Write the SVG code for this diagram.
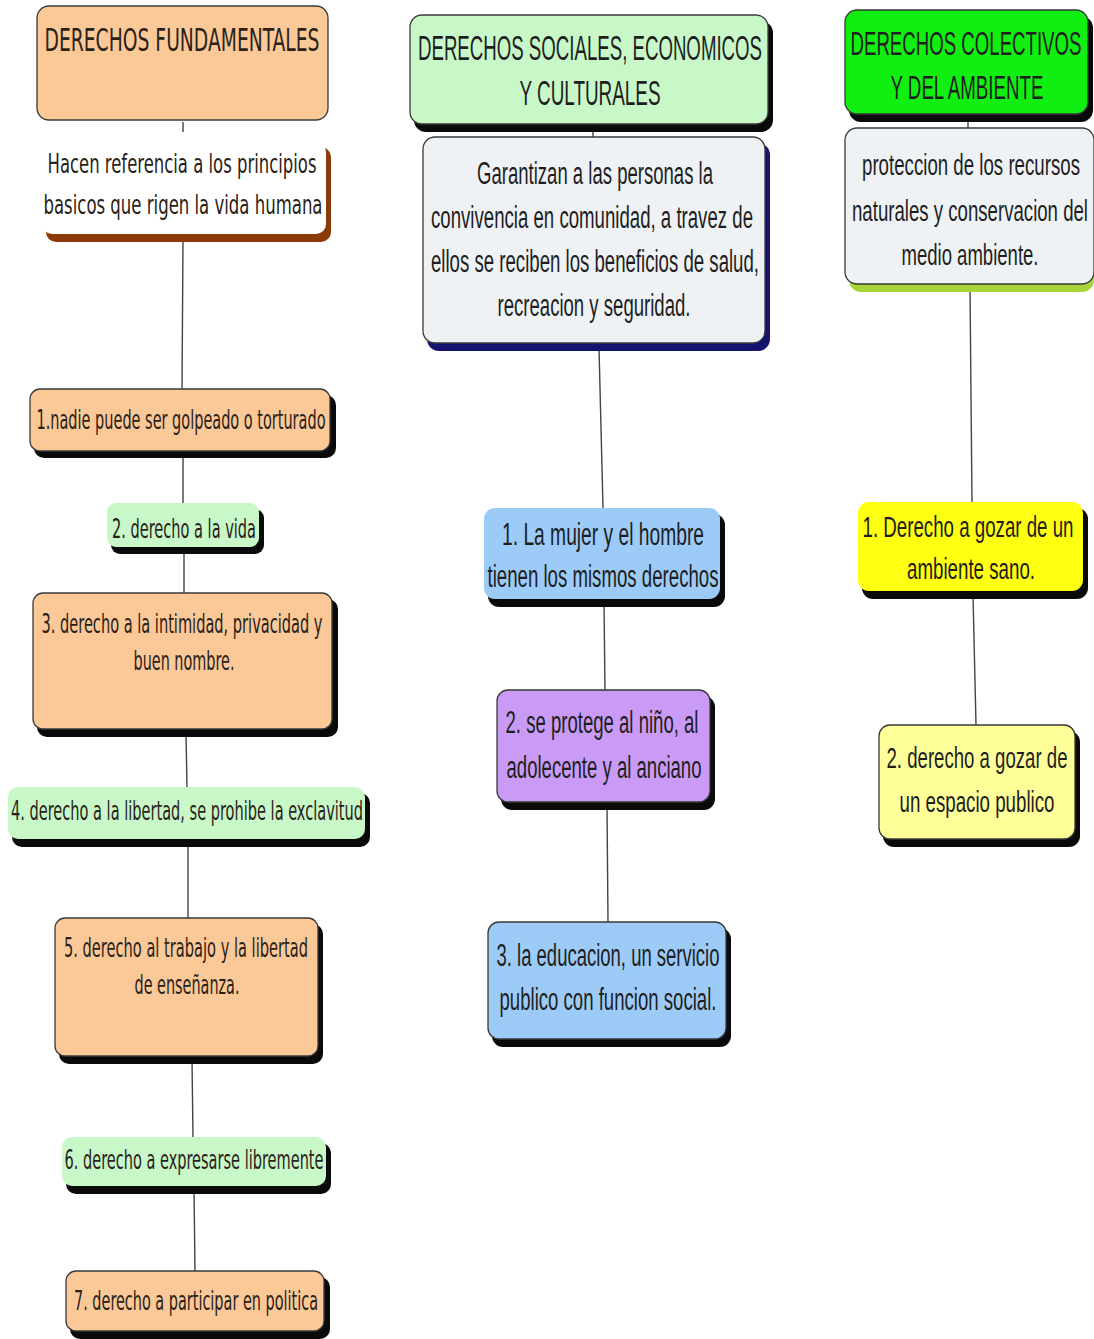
<svg xmlns="http://www.w3.org/2000/svg" width="1094" height="1339" viewBox="0 0 1094 1339">
<style>
.bg{fill:#ffffff}
.box{stroke:#3a3a3a;stroke-width:1.3}
.sh{fill:#0a0a0a}
.peach{fill:#FBC898}
.lgreen{fill:#C8F8C8}
.gray{fill:#EEF2F5}
.white{fill:#ffffff}
.blue{fill:#9DCBF8}
.purple{fill:#C99BF7}
.green{fill:#11EE11}
.yellow{fill:#FFFF11}
.lyellow{fill:#FFFF99}
.conn{stroke:#444;stroke-width:1.4;fill:none}
.v{font-family:"DejaVu Sans Condensed","DejaVu Sans",sans-serif;fill:#2a2218;text-anchor:middle}
.a{font-family:"Liberation Sans",Arial,sans-serif;fill:#1e1e1e;text-anchor:middle}
</style>
<rect class="bg" x="0" y="0" width="1094" height="1339"/>
<g id="connectors">
<line class="conn" x1="183" y1="122" x2="183" y2="132"/>
<line class="conn" x1="183" y1="240" x2="182" y2="389"/>
<line class="conn" x1="183" y1="455" x2="183" y2="503"/>
<line class="conn" x1="184" y1="551" x2="184" y2="593"/>
<line class="conn" x1="186" y1="733" x2="187" y2="787"/>
<line class="conn" x1="188" y1="843" x2="188" y2="918"/>
<line class="conn" x1="192" y1="1060" x2="193" y2="1137"/>
<line class="conn" x1="194" y1="1190" x2="195" y2="1271"/>
<line class="conn" x1="593" y1="128" x2="593" y2="137"/>
<line class="conn" x1="599" y1="348" x2="603" y2="508"/>
<line class="conn" x1="604" y1="603" x2="605" y2="690"/>
<line class="conn" x1="607" y1="806" x2="608" y2="922"/>
<line class="conn" x1="968" y1="118" x2="968" y2="128"/>
<line class="conn" x1="970" y1="288" x2="972" y2="502"/>
<line class="conn" x1="973" y1="595" x2="976" y2="725"/>
</g>
<g id="n-fundamentales">
<rect class="box peach" x="37" y="6" width="291" height="114" rx="12"/>
<text class="v" x="182" y="51" font-size="32" textLength="275" lengthAdjust="spacingAndGlyphs">DERECHOS FUNDAMENTALES</text>
</g>
<g id="n-hacen">
<rect x="46" y="147" width="285" height="95" rx="10" fill="#8B3A0A"/>
<rect class="white" x="42" y="142" width="284" height="92" rx="10"/>
<text class="v" x="182" y="173" font-size="27" textLength="269" lengthAdjust="spacingAndGlyphs">Hacen referencia a los principios</text>
<text class="v" x="183" y="214" font-size="27" textLength="279" lengthAdjust="spacingAndGlyphs">basicos que rigen la vida humana</text>
</g>
<g id="n-c1-1">
<rect class="sh" x="34" y="395" width="302" height="63" rx="10"/>
<rect class="box peach" x="30" y="389" width="300" height="62" rx="10"/>
<text class="v" x="181" y="429" font-size="27" textLength="289" lengthAdjust="spacingAndGlyphs">1.nadie puede ser golpeado o torturado</text>
</g>
<g id="n-c1-2">
<rect class="sh" x="111" y="509" width="153" height="45" rx="9"/>
<rect class="lgreen" x="107" y="503" width="152" height="44" rx="9"/>
<text class="v" x="184" y="538" font-size="27" textLength="144" lengthAdjust="spacingAndGlyphs">2. derecho a la vida</text>
</g>
<g id="n-c1-3">
<rect class="sh" x="37" y="599" width="301" height="138" rx="10"/>
<rect class="box peach" x="33" y="593" width="299" height="136" rx="10"/>
<text class="v" x="182" y="633" font-size="27" textLength="281" lengthAdjust="spacingAndGlyphs">3. derecho a la intimidad, privacidad y</text>
<text class="v" x="184" y="670" font-size="27" textLength="101" lengthAdjust="spacingAndGlyphs">buen nombre.</text>
</g>
<g id="n-c1-4">
<rect class="sh" x="12" y="793" width="358" height="54" rx="10"/>
<rect class="lgreen" x="8" y="787" width="357" height="52" rx="10"/>
<text class="v" x="187" y="820" font-size="27" textLength="352" lengthAdjust="spacingAndGlyphs">4. derecho a la libertad, se prohibe la exclavitud</text>
</g>
<g id="n-c1-5">
<rect class="sh" x="59" y="924" width="264" height="140" rx="10"/>
<rect class="box peach" x="55" y="918" width="263" height="138" rx="10"/>
<text class="v" x="186" y="957" font-size="27" textLength="244" lengthAdjust="spacingAndGlyphs">5. derecho al trabajo y la libertad</text>
<text class="v" x="187" y="994" font-size="27" textLength="105" lengthAdjust="spacingAndGlyphs">de enseñanza.</text>
</g>
<g id="n-c1-6">
<rect class="sh" x="66" y="1143" width="265" height="51" rx="10"/>
<rect class="lgreen" x="62" y="1137" width="264" height="49" rx="10"/>
<text class="v" x="194" y="1169" font-size="27" textLength="259" lengthAdjust="spacingAndGlyphs">6. derecho a expresarse libremente</text>
</g>
<g id="n-c1-7">
<rect class="sh" x="70" y="1277" width="260" height="62" rx="10"/>
<rect class="box peach" x="66" y="1271" width="258" height="60" rx="10"/>
<text class="v" x="196" y="1310" font-size="27" textLength="244" lengthAdjust="spacingAndGlyphs">7. derecho a participar en politica</text>
</g>
<g id="n-sociales">
<rect class="sh" x="414" y="21" width="359" height="111" rx="12"/>
<rect class="box lgreen" x="410" y="15" width="358" height="109" rx="12"/>
<text class="a" x="590" y="60" font-size="35" textLength="344" lengthAdjust="spacingAndGlyphs">DERECHOS SOCIALES, ECONOMICOS</text>
<text class="a" x="590" y="105" font-size="35" textLength="141" lengthAdjust="spacingAndGlyphs">Y CULTURALES</text>
</g>
<g id="n-garantizan">
<rect x="427" y="143" width="343" height="208" rx="12" fill="#141470"/>
<rect class="box gray" x="423" y="137" width="342" height="206" rx="12"/>
<text class="a" x="595" y="184" font-size="31" textLength="236" lengthAdjust="spacingAndGlyphs">Garantizan a las personas la</text>
<text class="a" x="592" y="228" font-size="31" textLength="322" lengthAdjust="spacingAndGlyphs">convivencia en comunidad, a travez de</text>
<text class="a" x="595" y="272" font-size="31" textLength="328" lengthAdjust="spacingAndGlyphs">ellos se reciben los beneficios de salud,</text>
<text class="a" x="594" y="316" font-size="31" textLength="193" lengthAdjust="spacingAndGlyphs">recreacion y seguridad.</text>
</g>
<g id="n-c2-1">
<rect class="sh" x="488" y="514" width="237" height="93" rx="11"/>
<rect class="blue" x="484" y="508" width="236" height="91" rx="11"/>
<text class="a" x="603" y="545" font-size="31" textLength="202" lengthAdjust="spacingAndGlyphs">1. La mujer y el hombre</text>
<text class="a" x="603" y="587" font-size="31" textLength="231" lengthAdjust="spacingAndGlyphs">tienen los mismos derechos</text>
</g>
<g id="n-c2-2">
<rect class="sh" x="501" y="696" width="214" height="114" rx="11"/>
<rect class="box purple" x="497" y="690" width="213" height="112" rx="11"/>
<text class="a" x="602" y="733" font-size="31" textLength="193" lengthAdjust="spacingAndGlyphs">2. se protege al niño, al</text>
<text class="a" x="604" y="778" font-size="31" textLength="195" lengthAdjust="spacingAndGlyphs">adolecente y al anciano</text>
</g>
<g id="n-c2-3">
<rect class="sh" x="492" y="928" width="239" height="119" rx="11"/>
<rect class="box blue" x="488" y="922" width="238" height="117" rx="11"/>
<text class="a" x="608" y="966" font-size="31" textLength="223" lengthAdjust="spacingAndGlyphs">3. la educacion, un servicio</text>
<text class="a" x="608" y="1010" font-size="31" textLength="217" lengthAdjust="spacingAndGlyphs">publico con funcion social.</text>
</g>
<g id="n-colectivos">
<rect class="sh" x="849" y="16" width="244" height="106" rx="12"/>
<rect class="box green" x="845" y="10" width="243" height="104" rx="12"/>
<text class="a" x="966" y="55" font-size="34" textLength="231" lengthAdjust="spacingAndGlyphs">DERECHOS COLECTIVOS</text>
<text class="a" x="967" y="99" font-size="34" textLength="153" lengthAdjust="spacingAndGlyphs">Y DEL AMBIENTE</text>
</g>
<g id="n-proteccion">
<rect x="849" y="134" width="245" height="158" rx="12" fill="#A8D43A"/>
<rect class="box gray" x="845" y="128" width="249" height="156" rx="12"/>
<text class="a" x="971" y="175" font-size="30" textLength="218" lengthAdjust="spacingAndGlyphs">proteccion de los recursos</text>
<text class="a" x="970" y="221" font-size="30" textLength="236" lengthAdjust="spacingAndGlyphs">naturales y conservacion del</text>
<text class="a" x="970" y="265" font-size="30" textLength="137" lengthAdjust="spacingAndGlyphs">medio ambiente.</text>
</g>
<g id="n-c3-1">
<rect class="sh" x="862" y="508" width="226" height="91" rx="11"/>
<rect class="yellow" x="858" y="502" width="225" height="89" rx="11"/>
<text class="a" x="968" y="537" font-size="30" textLength="211" lengthAdjust="spacingAndGlyphs">1. Derecho a gozar de un</text>
<text class="a" x="971" y="579" font-size="30" textLength="128" lengthAdjust="spacingAndGlyphs">ambiente sano.</text>
</g>
<g id="n-c3-2">
<rect class="sh" x="883" y="731" width="197" height="116" rx="11"/>
<rect class="box lyellow" x="879" y="725" width="196" height="114" rx="11"/>
<text class="a" x="977" y="768" font-size="30" textLength="181" lengthAdjust="spacingAndGlyphs">2. derecho a gozar de</text>
<text class="a" x="977" y="812" font-size="30" textLength="155" lengthAdjust="spacingAndGlyphs">un espacio publico</text>
</g>
</svg>
